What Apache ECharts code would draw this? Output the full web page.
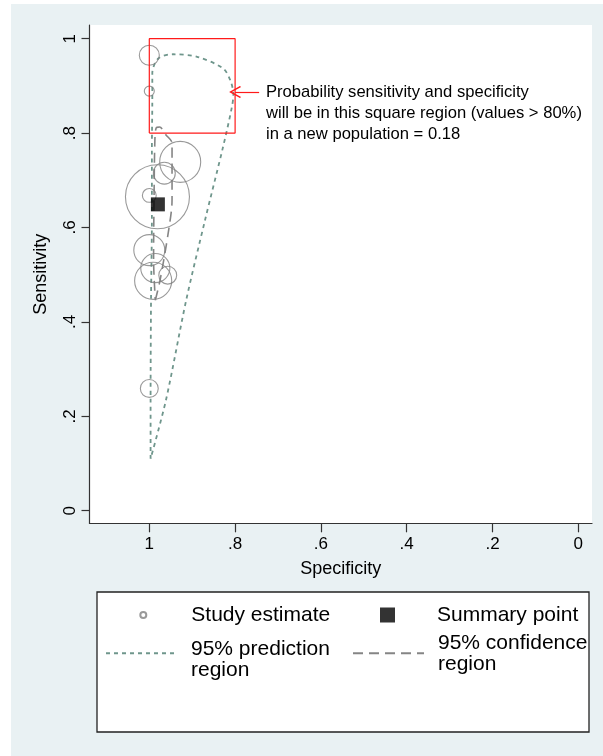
<!DOCTYPE html>
<html>
<head>
<meta charset="utf-8">
<script src="https://cdn.jsdelivr.net/npm/echarts@6/dist/echarts.min.js"></script>
<style>
  html, body { margin: 0; padding: 0; background: #fff; }
  #main { position: absolute; left: 11px; top: 4px; width: 592px; height: 752px; }
</style>
</head>
<body>
<div id="main"></div>
<script>
// study estimates (specificity, sensitivity, relative weight)
var studySpec = [1.0, 1.0, 0.928, 0.965, 0.981, 1.0, 1.0, 0.986, 0.957, 0.991, 1.0];
var studySens = [0.965, 0.889, 0.739, 0.715, 0.665, 0.668, 0.552, 0.514, 0.499, 0.487, 0.259];
var studyWeight = [25, 6.25, 105, 30, 256, 12, 60, 53, 20, 86, 20];

// summary point
var summarySpec = [0.98];
var summarySens = [0.649];

// 95% prediction region contour
var predSpec = [0.997, 0.997, 0.996, 0.994, 0.994, 0.993, 0.993, 0.979, 0.945, 0.890, 0.828, 0.810, 0.804, 0.808, 0.828, 0.870, 0.914, 0.961, 0.997];
var predSens = [0.110, 0.235, 0.446, 0.616, 0.764, 0.870, 0.927, 0.958, 0.967, 0.962, 0.937, 0.909, 0.881, 0.853, 0.771, 0.616, 0.446, 0.235, 0.110];

// 95% confidence region contour
var confSpec = [0.986, 0.975, 0.956, 0.947, 0.947, 0.961, 0.976, 0.984, 0.987, 0.989, 0.990, 0.986];
var confSens = [0.446, 0.488, 0.588, 0.658, 0.779, 0.796, 0.813, 0.811, 0.785, 0.658, 0.531, 0.446];

// square region (values > 80%)
var boxSpec = [1, 0.8, 0.8, 1, 1];
var boxSens = [0.8, 0.8, 1, 1, 0.8];

// ticks
var tickValues = [0, 0.2, 0.4, 0.6, 0.8, 1];
var tickLabels = ['0', '.2', '.4', '.6', '.8', '1'];

var annotation = 'Probability sensitivity and specificity\nwill be in this square region (values > 80%)\nin a new population = 0.18';

function zip(a, b) {
  return a.map(function (v, i) { return [v, b[i]]; });
}
function tickFmt(v) {
  var i = tickValues.indexOf(Math.round(v * 10) / 10);
  return i >= 0 ? tickLabels[i] : '';
}

var FONT = 'Liberation Sans';
var predColor = '#6f968c';
var confColor = '#858585';
var circColor = '#7f7f7f';

var myChart = echarts.init(document.getElementById('main'));

// legend box corners (container px)
var bx0 = 86, by0 = 588, bx1 = 578, by1 = 728;

var option = {
  animation: false,
  backgroundColor: '#e9f1f3',
  textStyle: { fontFamily: FONT },
  grid: {
    left: 78.5, right: 11, top: 21, bottom: 232.7,
    show: true, backgroundColor: '#ffffff', borderWidth: 0,
    outerBoundsMode: 'none'
  },
  xAxis: {
    type: 'value',
    inverse: true,
    min: -0.0319,
    max: 1.1394,
    name: 'Specificity',
    nameLocation: 'middle',
    nameGap: 37,
    nameTextStyle: { fontSize: 18, color: '#000', fontFamily: FONT },
    axisLine: { show: true, onZero: false, lineStyle: { color: '#333', width: 1.2 } },
    axisTick: { show: true, length: 9, customValues: tickValues, lineStyle: { color: '#333', width: 1.2 } },
    axisLabel: { show: true, customValues: tickValues, formatter: tickFmt, margin: 13, fontSize: 17, color: '#000', fontFamily: FONT },
    splitLine: { show: false }
  },
  yAxis: {
    type: 'value',
    min: -0.0267,
    max: 1.029,
    name: 'Sensitivity',
    nameLocation: 'middle',
    nameGap: 39,
    nameTextStyle: { fontSize: 18, color: '#000', fontFamily: FONT },
    axisLine: { show: true, onZero: false, lineStyle: { color: '#333', width: 1.2 } },
    axisTick: { show: true, length: 8, customValues: tickValues, lineStyle: { color: '#333', width: 1.2 } },
    axisLabel: { show: true, customValues: tickValues, formatter: tickFmt, rotate: 90, margin: 11, fontSize: 17, color: '#000', fontFamily: FONT },
    splitLine: { show: false }
  },
  legend: [
    {
      data: [{ name: 'Study estimate', icon: 'circle' }],
      left: 128.3, top: 600.5, padding: 0,
      itemWidth: 6, itemHeight: 6,
      textStyle: { fontSize: 21, lineHeight: 21, color: '#000', fontFamily: FONT, padding: [0, 0, 0, 40] },
      selectedMode: false
    },
    {
      data: [{ name: 'Summary point', icon: 'rect' }],
      left: 369, top: 600.5, padding: 0,
      itemWidth: 15, itemHeight: 15,
      textStyle: { fontSize: 21, lineHeight: 21, color: '#000', fontFamily: FONT, padding: [0, 0, 0, 37] },
      selectedMode: false
    },
    {
      data: ['95% prediction\nregion'],
      left: 94, top: 622.3, padding: 0,
      itemWidth: 68, itemHeight: 14,
      itemStyle: { opacity: 0 },
      formatter: function (name) { return '{s| }\n' + name; },
      textStyle: {
        fontSize: 21, lineHeight: 21, color: '#000', fontFamily: FONT, padding: [0, 0, 0, 12],
        rich: { s: { fontSize: 8, lineHeight: 12 } }
      },
      selectedMode: false
    },
    {
      data: ['95% confidence\nregion'],
      left: 341, top: 628.3, padding: 0,
      itemWidth: 71, itemHeight: 14,
      itemStyle: { opacity: 0 },
      textStyle: { fontSize: 21, lineHeight: 21, color: '#000', fontFamily: FONT, padding: [0, 0, 0, 9] },
      selectedMode: false
    }
  ],
  graphic: [
    {
      type: 'rect',
      shape: { x: bx0, y: by0, width: bx1 - bx0, height: by1 - by0 },
      style: { fill: '#ffffff', stroke: '#222', lineWidth: 1.3 },
      z: 1, silent: true
    },
    {
      type: 'text',
      left: 255, top: 77.5,
      style: { text: annotation, fontSize: 16.6, lineHeight: 21, fill: '#000', fontFamily: FONT },
      z: 10, silent: true
    }
  ],
  series: [
    {
      name: '95% prediction\nregion',
      type: 'line',
      data: zip(predSpec, predSens),
      smooth: 0.3,
      symbol: 'none',
      lineStyle: { color: predColor, width: 1.8, type: [4, 4] },
      itemStyle: { color: predColor },
      emphasis: { disabled: true },
      silent: true,
      z: 3
    },
    {
      name: '95% confidence\nregion',
      type: 'line',
      data: zip(confSpec, confSens),
      smooth: 0.3,
      symbol: 'none',
      lineStyle: { color: confColor, width: 1.6, type: [10, 6] },
      itemStyle: { color: confColor },
      emphasis: { disabled: true },
      silent: true,
      z: 3
    },
    {
      name: 'Study estimate',
      type: 'scatter',
      data: studySpec.map(function (s, i) { return [s, studySens[i], studyWeight[i]]; }),
      symbol: 'circle',
      symbolSize: function (d) { return 4 * Math.sqrt(d[2]); },
      itemStyle: { color: 'rgba(0,0,0,0)', borderColor: circColor, borderWidth: 1.1 },
      emphasis: { disabled: true },
      silent: true,
      z: 4
    },
    {
      name: 'Summary point',
      type: 'scatter',
      data: zip(summarySpec, summarySens),
      symbol: 'rect',
      symbolSize: 14,
      itemStyle: { color: '#000' },
      emphasis: { disabled: true },
      silent: true,
      z: 6
    },
    {
      name: 'square',
      type: 'line',
      data: zip(boxSpec, boxSens),
      symbol: 'none',
      lineStyle: { color: '#ff1a1a', width: 1.2, type: 'solid' },
      emphasis: { disabled: true },
      silent: true,
      z: 5,
      markLine: {
        silent: true,
        symbol: ['none', 'path://M5,0 L10,9 L9.2,10 L5,2.4 L0.8,10 L0,9 Z'],
        symbolSize: 12,
        label: { show: false },
        lineStyle: { color: '#ff1a1a', width: 1.2, type: 'solid' },
        emphasis: { disabled: true },
        data: [[{ coord: [0.744, 0.887] }, { coord: [0.8, 0.887] }]]
      }
    }
  ]
};

myChart.setOption(option);
</script>
</body>
</html>
